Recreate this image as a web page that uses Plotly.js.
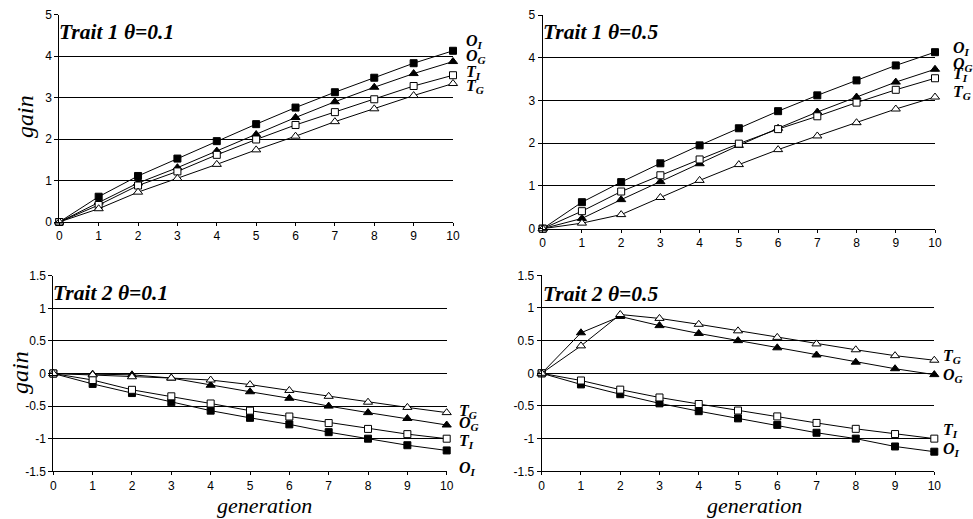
<!DOCTYPE html>
<html><head><meta charset="utf-8">
<script src="https://cdn.plot.ly/plotly-3.0.1.min.js"></script>
<style>html,body{margin:0;padding:0;background:#fff}#chart{width:973px;height:519px}</style>
</head><body><div id="chart"></div>
<script>
// ---------- DATA ----------
const generations = [0,1,2,3,4,5,6,7,8,9,10];
const xTickLabels = ['0','1','2','3','4','5','6','7','8','9','10'];
const seriesLabels = ['<b><i>O<sub>I</sub></i></b>','<b><i>O<sub>G</sub></i></b>','<b><i>T<sub>I</sub></i></b>','<b><i>T<sub>G</sub></i></b>'];
const panelTitles = ['Trait 1 &#952;=0.1','Trait 1 &#952;=0.5','Trait 2 &#952;=0.1','Trait 2 &#952;=0.5'];

// Trait 1, theta = 0.1
const t1a_OI = [0,0.61,1.11,1.53,1.95,2.36,2.76,3.13,3.48,3.83,4.13];
const t1a_OG = [0,0.48,0.94,1.31,1.71,2.11,2.52,2.90,3.25,3.58,3.87];
const t1a_TI = [0,0.41,0.88,1.22,1.62,1.99,2.34,2.65,2.96,3.28,3.54];
const t1a_TG = [0,0.32,0.72,1.05,1.39,1.74,2.07,2.42,2.73,3.05,3.34];
// Trait 1, theta = 0.5
const t1b_OI = [0,0.62,1.09,1.53,1.95,2.35,2.75,3.12,3.47,3.82,4.13];
const t1b_OG = [0,0.24,0.68,1.10,1.52,1.95,2.35,2.73,3.08,3.43,3.73];
const t1b_TI = [0,0.41,0.87,1.25,1.62,1.99,2.33,2.63,2.95,3.25,3.52];
const t1b_TG = [0,0.13,0.33,0.73,1.13,1.50,1.85,2.17,2.48,2.80,3.08];
// Trait 2, theta = 0.1
const t2a_OI = [0,-0.16,-0.30,-0.44,-0.57,-0.68,-0.78,-0.90,-1.00,-1.10,-1.18];
const t2a_OG = [0,-0.01,-0.02,-0.07,-0.18,-0.28,-0.38,-0.50,-0.60,-0.69,-0.79];
const t2a_TI = [0,-0.10,-0.25,-0.35,-0.46,-0.57,-0.66,-0.76,-0.85,-0.93,-1.00];
const t2a_TG = [0,-0.02,-0.05,-0.07,-0.10,-0.17,-0.26,-0.35,-0.44,-0.52,-0.60];
// Trait 2, theta = 0.5
const t2b_OI = [0,-0.17,-0.32,-0.46,-0.58,-0.69,-0.79,-0.91,-1.00,-1.12,-1.20];
const t2b_OG = [0,0.62,0.87,0.73,0.61,0.50,0.39,0.28,0.17,0.07,-0.02];
const t2b_TI = [0,-0.11,-0.25,-0.37,-0.47,-0.57,-0.66,-0.76,-0.85,-0.93,-1.00];
const t2b_TG = [0,0.42,0.90,0.84,0.75,0.65,0.55,0.45,0.36,0.27,0.20];

const yTicks1 = [0,1,2,3,4,5];
const yTickText1 = ['0','1','2','3','4','5'];
const yTicks2 = [-1.5,-1,-0.5,0,0.5,1,1.5];
const yTickText2 = ['-1.5','-1','-0.5','0','0.5','1','1.5'];

// ---------- STYLE / LAYOUT ----------
const W = 973, H = 519;
const px = v => v / W, py = v => 1 - v / H;
const serif = 'Liberation Serif, Times New Roman, serif';
const sans = 'Liberation Sans, Arial, sans-serif';

const markerStyles = [
  {symbol:'square', size:7, color:'#000', line:{color:'#000', width:1}},
  {symbol:'triangle-up', size:8, color:'#000', line:{color:'#000', width:1}},
  {symbol:'square', size:7, color:'#fff', line:{color:'#000', width:1}},
  {symbol:'triangle-up', size:8, color:'#fff', line:{color:'#000', width:1}}
];

const panels = [
  {series:[t1a_OI,t1a_OG,t1a_TI,t1a_TG], xd:[px(59.3),px(453)], yd:[py(222),py(14.7)], range:[0,5], tv:yTicks1, tt:yTickText1,
   labelY:[4.36,3.98,3.61,3.28], labelShift:11},
  {series:[t1b_OI,t1b_OG,t1b_TI,t1b_TG], xd:[px(542.7),px(935)], yd:[py(228.7),py(15)], range:[0,5], tv:yTicks1, tt:yTickText1,
   labelY:[4.21,3.84,3.60,3.18], labelShift:16},
  {series:[t2a_OI,t2a_OG,t2a_TI,t2a_TG], xd:[px(53.3),px(446.7)], yd:[py(471.3),py(275.7)], range:[-1.5,1.5], tv:yTicks2, tt:yTickText2,
   labelY:[-1.45,-0.77,-1.04,-0.58], labelShift:10},
  {series:[t2b_OI,t2b_OG,t2b_TI,t2b_TG], xd:[px(541.7),px(934.3)], yd:[py(471.3),py(275.3)], range:[-1.5,1.5], tv:yTicks2, tt:yTickText2,
   labelY:[-1.17,-0.04,-0.88,0.25], labelShift:7}
];

const titlePos = [[57,32],[541,32],[51,293],[541,294]];

const data = [];
const layout = {
  width:W, height:H, margin:{l:0,r:0,t:0,b:0}, showlegend:false,
  paper_bgcolor:'#fff', plot_bgcolor:'#fff', annotations:[]
};

panels.forEach((p, i) => {
  const n = i + 1;
  const xk = n === 1 ? 'x' : 'x' + n, yk = n === 1 ? 'y' : 'y' + n;
  p.series.forEach((s, j) => {
    data.push({x:generations, y:s, xaxis:xk, yaxis:yk, type:'scatter', mode:'lines+markers',
      line:{color:'#000', width:1}, marker:markerStyles[j], cliponaxis:false, hoverinfo:'skip'});
    layout.annotations.push({xref:xk, yref:yk, x:10, y:p.labelY[j], xshift:p.labelShift, xanchor:'left', yanchor:'middle',
      text:seriesLabels[j], showarrow:false, font:{family:serif, size:16, color:'#000'}});
  });
  layout['xaxis' + (n === 1 ? '' : n)] = {
    domain:p.xd, anchor:yk, range:[0,10], tickmode:'array', tickvals:generations, ticktext:xTickLabels,
    ticks:'outside', ticklen:3, tickcolor:'#000', showline:true, linecolor:'#000', linewidth:1,
    showgrid:false, zeroline:false, tickfont:{family:sans, size:12, color:'#000'}, fixedrange:true
  };
  layout['yaxis' + (n === 1 ? '' : n)] = {
    domain:p.yd, anchor:xk, range:p.range, tickmode:'array', tickvals:p.tv, ticktext:p.tt,
    ticks:'outside', ticklen:4, tickcolor:'#000', showline:true, linecolor:'#000', linewidth:1,
    showgrid:true, gridcolor:'#000', gridwidth:1, zeroline:false,
    tickfont:{family:sans, size:12, color:'#000'}, fixedrange:true
  };
  layout.annotations.push({xref:'paper', yref:'paper', x:px(titlePos[i][0]), y:py(titlePos[i][1]), xanchor:'left', yanchor:'middle',
    text:'<b><i>' + panelTitles[i] + '</i></b>', showarrow:false, font:{family:serif, size:21.5, color:'#000'}});
});

// axis titles
[[25,117],[20,373]].forEach(pp => layout.annotations.push({xref:'paper', yref:'paper', x:px(pp[0]), y:py(pp[1]),
  xanchor:'center', yanchor:'middle',
  text:'<i>gain</i>', textangle:-90, showarrow:false, font:{family:serif, size:24, color:'#000'}}));
[[264,505],[754,505]].forEach(pp => layout.annotations.push({xref:'paper', yref:'paper', x:px(pp[0]), y:py(pp[1]),
  xanchor:'center', yanchor:'middle',
  text:'<i>generation</i>', showarrow:false, font:{family:serif, size:22, color:'#000'}}));

Plotly.newPlot('chart', data, layout, {staticPlot:true, displayModeBar:false});
</script></body></html>
